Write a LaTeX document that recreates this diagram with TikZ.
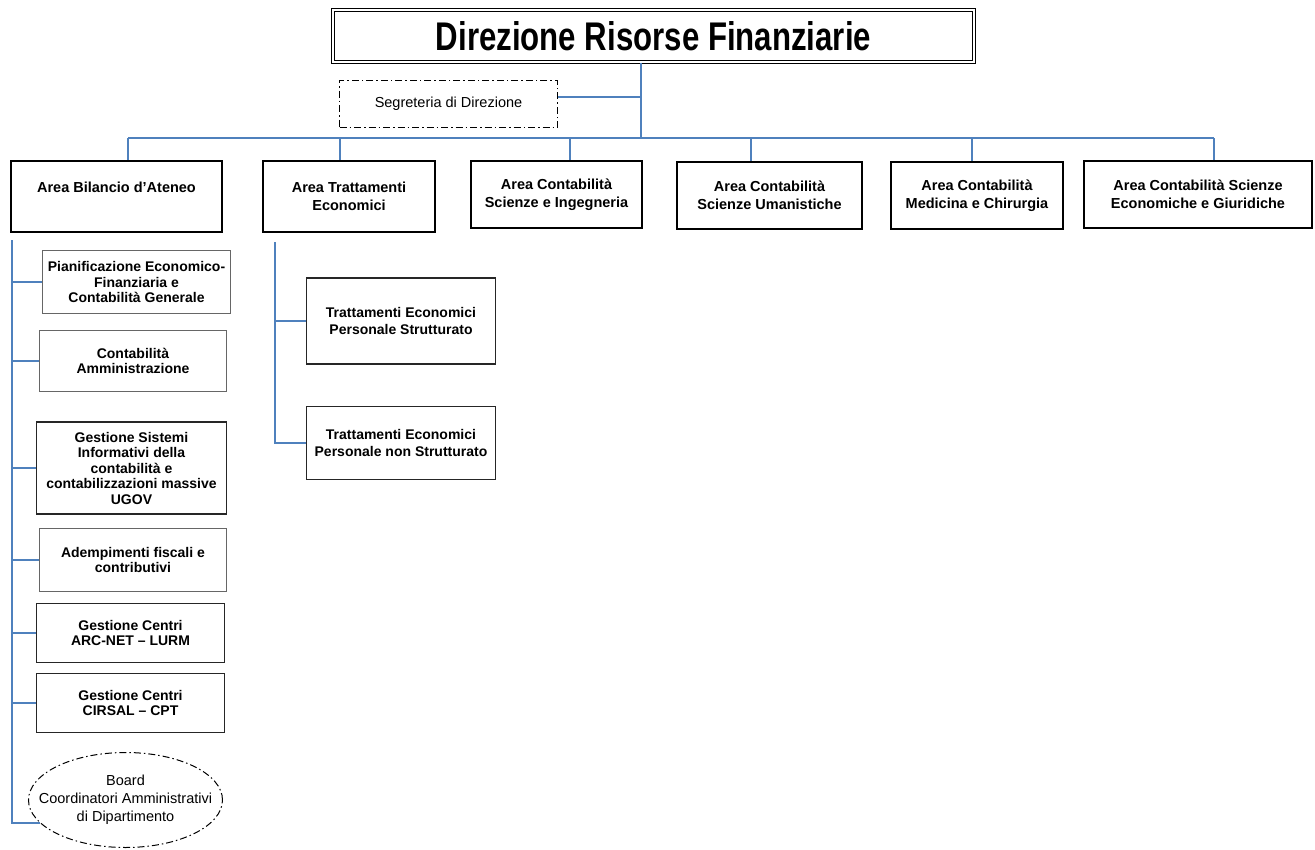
\documentclass[tikz,border=0pt]{standalone}
\usepackage{fontspec}
\setmainfont{Liberation Sans}
\newfontfamily\narrowfont[FakeStretch=0.78]{Liberation Sans}
\usepackage{tikz}
\usetikzlibrary{shapes.geometric}
\definecolor{linkblue}{RGB}{79,129,189}

\begin{document}
\begin{tikzpicture}[x=1pt,y=-1pt,
	link/.style={draw=linkblue,line width=1.3pt},
	areabox/.style={draw,line width=1.8pt,inner sep=2pt,align=center,font=\fontsize{14.5}{18}\selectfont\bfseries},
	unitbox/.style={draw=black!85,line width=1.2pt,inner sep=2pt,align=center,font=\fontsize{14}{15.5}\selectfont\bfseries},
	dashdot/.style={draw,line width=1pt,dash pattern=on 7pt off 3pt on 1.5pt off 3pt}]
    \useasboundingbox (0,0) rectangle (1315,849);
    % direzione
    \node[draw,double,double distance=2pt,line width=1.2pt,minimum width=641pt,minimum height=52pt,
      font=\narrowfont\fontsize{40}{44}\selectfont\bfseries] (dir) at (653.5,36) {Direzione Risorse Finanziarie};
    \node[dashdot,minimum width=218pt,minimum height=47pt,font=\fontsize{14.5}{17}\selectfont] (seg) at (448.5,104) {Segreteria di Direzione};
    % aree
    \node[areabox,minimum width=211pt,minimum height=71pt] (bil) at (116.5,196.5) {Area Bilancio d’Ateneo\\ \mbox{}};
    \node[areabox,minimum width=172pt,minimum height=71pt] (tra) at (349,196.5) {Area Trattamenti\\ Economici};
    \node[areabox,minimum width=171pt,minimum height=67pt] (sci) at (556.5,194.5) {Area Contabilità\\ Scienze e Ingegneria};
    \node[areabox,minimum width=185pt,minimum height=67pt] (uma) at (769.5,195.5) {Area Contabilità\\ Scienze Umanistiche};
    \node[areabox,minimum width=172pt,minimum height=67pt] (med) at (977,195.5) {Area Contabilità\\ Medicina e Chirurgia};
    \node[areabox,minimum width=228pt,minimum height=67pt] (eco) at (1198,194.5) {Area Contabilità Scienze\\ Economiche e Giuridiche};
    % uffici area bilancio
    \node[unitbox,draw=black!60,minimum width=188pt,minimum height=63pt] (pian) at (136.5,282) {Pianificazione Economico-\\ Finanziaria e\\ Contabilità Generale};
    \node[unitbox,draw=black!60,minimum width=187pt,minimum height=61pt] (camm) at (133,361) {Contabilità\\ Amministrazione};
    \node[unitbox,minimum width=190pt,minimum height=92pt] (gsi) at (131.5,468) {Gestione Sistemi\\ Informativi della\\ contabilità e\\ contabilizzazioni massive\\ UGOV};
    \node[unitbox,draw=black!60,minimum width=187pt,minimum height=63pt] (adem) at (133,560) {Adempimenti fiscali e\\ contributivi};
    \node[unitbox,minimum width=188pt,minimum height=59pt] (arc) at (130.5,633) {Gestione Centri\\ ARC-NET -- LURM};
    \node[unitbox,minimum width=188pt,minimum height=59pt] (cir) at (130.5,703) {Gestione Centri\\ CIRSAL -- CPT};
    \node[dashdot,ellipse,inner xsep=-22pt,inner ysep=6pt,minimum width=194pt,minimum height=95pt,align=center,
      font=\fontsize{14.5}{18}\selectfont] (board) at (125.5,800) {Board\\ Coordinatori Amministrativi\\ di Dipartimento};
    % uffici area trattamenti
    \node[unitbox,minimum width=189pt,minimum height=86pt,font=\fontsize{14}{17.5}\selectfont\bfseries] (ts) at (401,321) {Trattamenti Economici\\ Personale Strutturato};
    \node[unitbox,minimum width=189pt,minimum height=73pt,font=\fontsize{14}{17.5}\selectfont\bfseries] (tns) at (401,443) {Trattamenti Economici\\ Personale non Strutturato};

    % collegamenti
    \coordinate (hub) at (641,138);
    \draw[link] (dir.south -| hub) -- (hub);
    \draw[link] ([yshift=7pt]seg.east) -- ([yshift=7pt]seg.east -| hub);
    \draw[link] (128,138) -- (1214,138);
    \foreach \n/\x in {bil/128,tra/340,sci/570,uma/751,med/972,eco/1214}
      \draw[link] (\x,138) -- (\x,138 |- \n.north);
    \coordinate (bilspine) at (12,240);
    \draw[link] (bilspine) -- (bilspine |- board.195) -- (board.195);
    \foreach \n in {pian,camm,gsi,adem,arc,cir}
      \draw[link] (bilspine |- \n.west) -- (\n.west);
    \coordinate (traspine) at (275,242);
    \draw[link] (traspine) -- (traspine |- tns.west) -- (tns.west);
    \draw[link] (traspine |- ts.west) -- (ts.west);
\end{tikzpicture}
\end{document}
